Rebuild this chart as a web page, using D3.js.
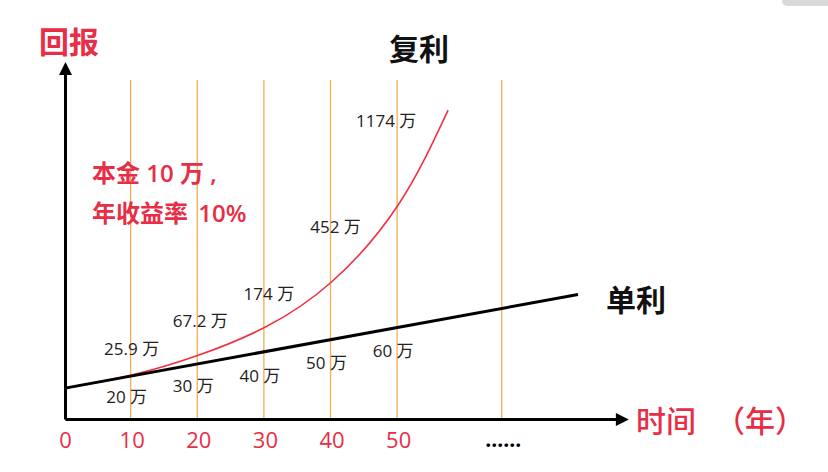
<!DOCTYPE html>
<html>
<head>
<meta charset="utf-8">
<script src="https://cdn.jsdelivr.net/npm/d3@7"></script>
<style>
  html, body { margin: 0; padding: 0; background: #fff; }
  #chart { width: 828px; height: 472px; }
</style>
</head>
<body>
<div id="chart"></div>
<script>
// Data (values in 万, principal 10万, 10% a year)
const years = [0, 10, 20, 30, 40, 50];
const simpleValues = [10, 20, 30, 40, 50, 60];
const compoundValues = [10, 25.9, 67.2, 174, 452, 1174];
const tickLabels = ["0", "10", "20", "30", "40", "50", "......"];
const gridYears = [10, 20, 30, 40, 50, 65.7];

// the drawing is schematic: the lines are not to scale with the labels,
// so these are the heights the lines are drawn at
const simpleLineYears = [0, 77];
const simpleLineHeights = [10, 87];
const compoundLineYears = [0, 10, 20, 30, 40, 50, 57.5];
const compoundLineHeights = [10, 20.7, 37, 60, 97.3, 160.6, 238.7];

const width = 828;
const height = 472;
const red = "#e62e46";

const svg = d3.select("#chart")
  .append("svg")
  .attr("width", width)
  .attr("height", height);

// little grey tab in the corner of the screenshot
svg.append("path")
  .attr("d", "M782,0H828V6H788Q782,6 782,0Z")
  .attr("fill", "#d9d9d9");

const x = d3.scaleLinear().domain([0, 83]).range([65, 618]);
const y = d3.scaleLinear().domain([-15.4, 270]).range([419, 72]);

// arrow heads
const defs = svg.append("defs");
defs.append("marker")
  .attr("id", "arrow")
  .attr("viewBox", "0 0 10 10")
  .attr("refX", 2)
  .attr("refY", 5)
  .attr("markerUnits", "userSpaceOnUse")
  .attr("markerWidth", 14)
  .attr("markerHeight", 13)
  .attr("orient", "auto")
  .append("path")
  .attr("d", "M0,0L10,5L0,10Z")
  .attr("fill", "#000");

// vertical guide lines
svg.append("g")
  .selectAll("line")
  .data(gridYears)
  .join("line")
  .attr("x1", (d) => x(d) - 1)
  .attr("x2", (d) => x(d) - 1)
  .attr("y1", 80)
  .attr("y2", y(-15.4))
  .attr("stroke", "#f2ad55")
  .attr("stroke-width", 1.3);

// axes
const xAxis = svg.append("g")
  .attr("transform", `translate(0,${y(-15.4)})`)
  .call(d3.axisBottom(x)
    .tickValues(years.concat([65.7]))
    .tickFormat((d, i) => tickLabels[i])
    .tickSize(0)
    .tickPadding(13));
xAxis.select(".domain")
  .attr("stroke", "#000")
  .attr("stroke-width", 3)
  .attr("marker-end", "url(#arrow)");
xAxis.selectAll("text")
  .attr("fill", red)
  .style("font-family", "'Open Sans', sans-serif")
  .style("font-size", "22px");
xAxis.selectAll(".tick")
  .filter((d, i) => i === tickLabels.length - 1)
  .select("text")
  .attr("fill", "#000")
  .attr("dy", "0.7em")
  .style("font-weight", "bold")
  .style("font-size", "21px");

const yAxis = svg.append("g")
  .attr("transform", `translate(${x(0)},0)`)
  .call(d3.axisLeft(y).tickValues([]).tickSizeOuter(0));
yAxis.select(".domain")
  .attr("stroke", "#000")
  .attr("stroke-width", 3)
  .attr("marker-end", "url(#arrow)");

// lines
const simpleLine = d3.line()
  .x((d, i) => x(simpleLineYears[i]))
  .y((d) => y(d));

const compoundLine = d3.line()
  .x((d, i) => x(compoundLineYears[i]))
  .y((d) => y(d))
  .curve(d3.curveNatural);

svg.append("path")
  .datum(compoundLineHeights)
  .attr("d", compoundLine)
  .attr("fill", "none")
  .attr("stroke", "#f2303f")
  .attr("stroke-width", 1.6);

svg.append("path")
  .datum(simpleLineHeights)
  .attr("d", simpleLine)
  .attr("fill", "none")
  .attr("stroke", "#000")
  .attr("stroke-width", 3);

// value labels
const labelFont = "'Open Sans', 'Noto Sans CJK SC', sans-serif";
const simpleLabelDy = [27, 28, 30, 30, 30];
const compoundLabelDy = [-20, -28, -27, -49, -78];
const compoundPointHeights = compoundLineHeights.slice(1, 6);

svg.append("g")
  .selectAll("text")
  .data(simpleValues.slice(1))
  .join("text")
  .attr("x", (d, i) => x(years[i + 1]) - 5)
  .attr("y", (d, i) => y(d) + simpleLabelDy[i])
  .attr("text-anchor", "middle")
  .attr("fill", "#222")
  .style("font-family", labelFont)
  .style("font-size", "17px")
  .text((d) => `${d} 万`);

svg.append("g")
  .selectAll("text")
  .data(compoundValues.slice(1))
  .join("text")
  .attr("x", (d, i) => x(years[i + 1]) + [0, 2, 4, 4, -12][i])
  .attr("y", (d, i) => y(compoundPointHeights[i]) + compoundLabelDy[i])
  .attr("text-anchor", "middle")
  .attr("fill", "#222")
  .style("font-family", labelFont)
  .style("font-size", "17px")
  .text((d) => `${d} 万`);

// titles and notes
const cjk = "'Noto Sans CJK SC', sans-serif";

svg.append("text")
  .attr("x", 39)
  .attr("y", 53)
  .attr("fill", red)
  .style("font-family", cjk)
  .style("font-weight", "bold")
  .style("font-size", "30px")
  .text("回报");

svg.append("text")
  .attr("x", 389)
  .attr("y", 60)
  .attr("fill", "#111")
  .style("font-family", cjk)
  .style("font-weight", "bold")
  .style("font-size", "30px")
  .text("复利");

svg.append("text")
  .attr("x", 606)
  .attr("y", 311)
  .attr("fill", "#111")
  .style("font-family", cjk)
  .style("font-weight", "bold")
  .style("font-size", "30px")
  .text("单利");

svg.append("text")
  .attr("x", 636)
  .attr("y", 432)
  .attr("fill", red)
  .style("font-family", cjk)
  .style("font-weight", 500)
  .style("font-size", "30px")
  .text("时间");

svg.append("text")
  .attr("x", 715)
  .attr("y", 432)
  .attr("fill", red)
  .style("font-family", cjk)
  .style("font-weight", 500)
  .style("font-size", "30px")
  .text("（年）");

const note = svg.append("text")
  .attr("fill", red)
  .style("font-family", "'Open Sans', 'Noto Sans CJK SC', sans-serif")
  .style("font-weight", 600)
  .style("font-size", "24px");
note.append("tspan").attr("x", 92).attr("y", 182).text("本金 10 万 ,");
note.append("tspan").attr("x", 92).attr("y", 222).attr("word-spacing", "4px").text("年收益率 10%");
</script>
</body>
</html>
